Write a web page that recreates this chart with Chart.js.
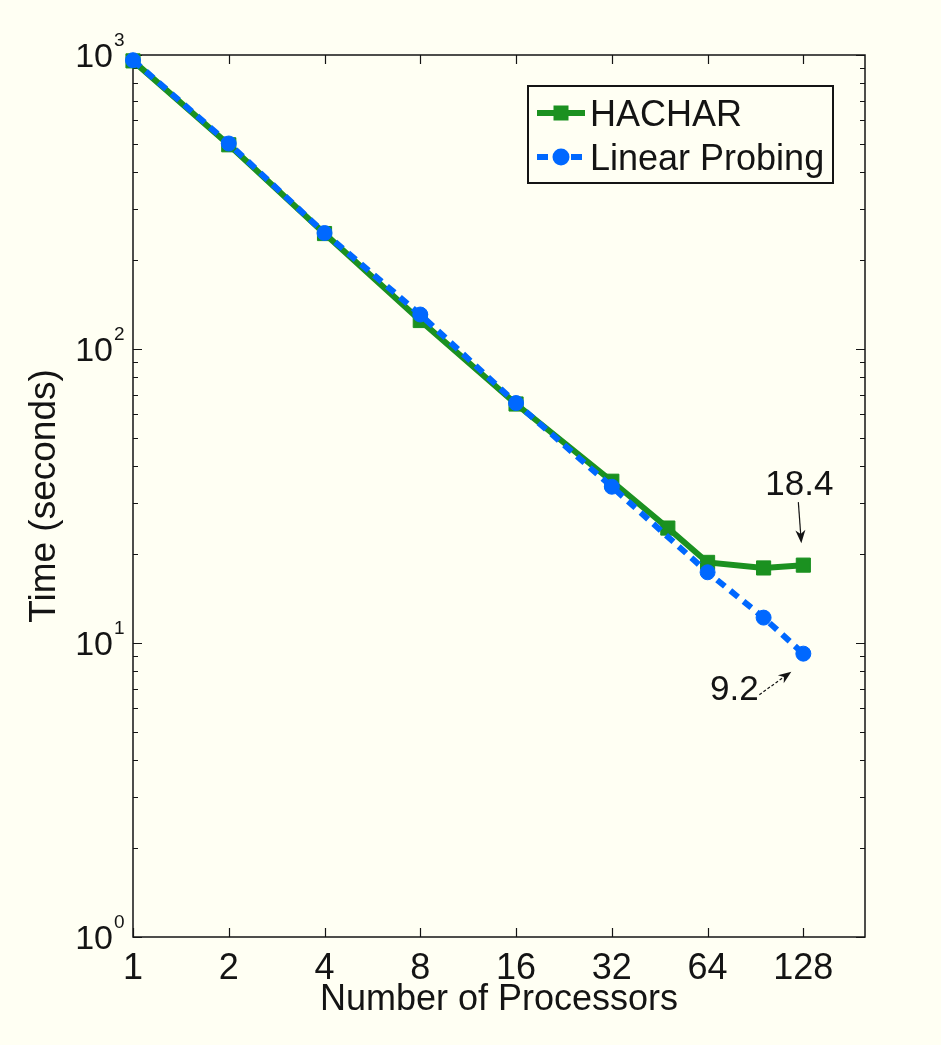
<!DOCTYPE html>
<html>
<head>
<meta charset="utf-8">
<title>Time vs processors</title>
<script src="https://cdn.jsdelivr.net/npm/chart.js@4.4.1/dist/chart.umd.min.js"></script>
<style>
  html, body { margin: 0; padding: 0; background: #fffff3; }
  canvas { display: block; }
</style>
</head>
<body>
<canvas id="timeChart" width="941" height="1045"></canvas>
<script>
// processor counts on the x axis (log2 spacing)
const procTicks = [1, 2, 4, 8, 16, 32, 64, 128];

// HACHAR run times (seconds)
const hacharProcs = [1, 2, 4, 8, 16, 32, 48, 64, 96, 128];
const hacharTimes = [955, 495, 247, 125, 65, 35.5, 24.6, 18.8, 18.0, 18.4];

// linear probing run times (seconds)
const probingProcs = [1, 2, 4, 8, 16, 32, 64, 96, 128];
const probingTimes = [960, 500, 248, 131, 65.5, 34, 17.4, 12.2, 9.2];

// powers of ten shown on the y axis
const yDecades = [1, 10, 100, 1000];

const FONT = '"Liberation Sans", Arial, Helvetica, sans-serif';
const GREEN = '#1b9120';
const BLUE = '#0068ff';
const INK = '#141414';

const toPoints = (xs, ys) => xs.map((v, i) => ({ x: v, y: ys[i] }));

// box, inward ticks on all four sides, and 10^n labels
const frame = {
  id: 'frame',
  beforeDatasetsDraw(chart) {
    const { ctx, chartArea: a, scales: { x, y } } = chart;
    ctx.save();
    ctx.strokeStyle = INK;
    ctx.lineWidth = 1.5;
    ctx.strokeRect(a.left, a.top, a.right - a.left, a.bottom - a.top);

    ctx.lineWidth = 1.2;
    ctx.beginPath();
    procTicks.forEach(v => {
      const px = Math.round(x.getPixelForValue(v)) + 0.5;
      ctx.moveTo(px, a.bottom); ctx.lineTo(px, a.bottom - 9);
      ctx.moveTo(px, a.top); ctx.lineTo(px, a.top + 9);
    });
    yDecades.forEach(dec => {
      for (let m = 1; m < 10; m++) {
        const v = dec * m;
        if (v > y.max) break;
        const py = Math.round(y.getPixelForValue(v)) + 0.5;
        const len = m === 1 ? 9 : 5;
        ctx.moveTo(a.left, py); ctx.lineTo(a.left + len, py);
        ctx.moveTo(a.right, py); ctx.lineTo(a.right - len, py);
      }
    });
    ctx.stroke();

    ctx.fillStyle = INK;
    yDecades.forEach(dec => {
      const py = y.getPixelForValue(dec);
      const exp = Math.round(Math.log10(dec));
      ctx.font = '34px ' + FONT;
      ctx.textAlign = 'right';
      ctx.textBaseline = 'alphabetic';
      ctx.fillText('10', a.left - 20, py + 12);
      ctx.font = '19px ' + FONT;
      ctx.textAlign = 'left';
      ctx.fillText(String(exp), a.left - 19, py - 9);
    });
    ctx.restore();
  }
};

function drawArrow(ctx, x0, y0, x1, y1, dashed) {
  const ang = Math.atan2(y1 - y0, x1 - x0);
  const head = 13, half = 5;
  ctx.save();
  ctx.strokeStyle = INK;
  ctx.fillStyle = INK;
  ctx.lineWidth = 1.2;
  if (dashed) ctx.setLineDash([3, 2]);
  ctx.beginPath();
  ctx.moveTo(x0, y0);
  ctx.lineTo(x1 - Math.cos(ang) * head * 0.7, y1 - Math.sin(ang) * head * 0.7);
  ctx.stroke();
  ctx.setLineDash([]);
  ctx.beginPath();
  ctx.moveTo(x1, y1);
  ctx.lineTo(x1 - Math.cos(ang) * head - Math.sin(ang) * half, y1 - Math.sin(ang) * head + Math.cos(ang) * half);
  ctx.lineTo(x1 - Math.cos(ang) * head * 0.7, y1 - Math.sin(ang) * head * 0.7);
  ctx.lineTo(x1 - Math.cos(ang) * head + Math.sin(ang) * half, y1 - Math.sin(ang) * head - Math.cos(ang) * half);
  ctx.closePath();
  ctx.fill();
  ctx.restore();
}

// value callouts at 128 processors
const callouts = {
  id: 'callouts',
  afterDatasetsDraw(chart) {
    const { ctx, scales: { x, y } } = chart;
    const hi = hacharProcs.length - 1;
    const pi = probingProcs.length - 1;
    const hx = x.getPixelForValue(hacharProcs[hi]);
    const hy = y.getPixelForValue(hacharTimes[hi]);
    const px = x.getPixelForValue(probingProcs[pi]);
    const py = y.getPixelForValue(probingTimes[pi]);

    ctx.save();
    ctx.fillStyle = INK;
    ctx.font = '35px ' + FONT;
    ctx.textAlign = 'center';
    ctx.textBaseline = 'alphabetic';
    ctx.fillText(hacharTimes[hi].toFixed(1), hx - 4, hy - 83 + 12.5);
    ctx.fillText(probingTimes[pi].toFixed(1), px - 69, py + 34 + 12.5);
    ctx.restore();

    drawArrow(ctx, hx - 5, hy - 63, hx - 2, hy - 22, false);
    drawArrow(ctx, px - 44, py + 41, px - 12, py + 18, true);
  }
};

// boxed legend in the upper right of the plot
const boxLegend = {
  id: 'boxLegend',
  afterDatasetsDraw(chart) {
    const { ctx, chartArea: a } = chart;
    const left = a.right - 337, top = a.top + 31, w = 305, h = 97;
    ctx.save();
    ctx.fillStyle = '#fffff3';
    ctx.fillRect(left, top, w, h);
    ctx.strokeStyle = INK;
    ctx.lineWidth = 2;
    ctx.strokeRect(left, top, w, h);

    const x0 = left + 9, x1 = left + 57, xm = (x0 + x1) / 2;
    const r1 = top + 27, r2 = top + 71;

    ctx.strokeStyle = GREEN;
    ctx.lineWidth = 6;
    ctx.beginPath(); ctx.moveTo(x0, r1); ctx.lineTo(x1, r1); ctx.stroke();
    ctx.fillStyle = GREEN;
    ctx.fillRect(xm - 7.5, r1 - 7.5, 15, 15);

    ctx.strokeStyle = BLUE;
    ctx.setLineDash([11, 6]);
    ctx.beginPath(); ctx.moveTo(x0, r2); ctx.lineTo(x1, r2); ctx.stroke();
    ctx.setLineDash([]);
    ctx.fillStyle = BLUE;
    ctx.beginPath(); ctx.arc(xm, r2, 8.5, 0, Math.PI * 2); ctx.fill();

    ctx.fillStyle = INK;
    ctx.font = '36px ' + FONT;
    ctx.textAlign = 'left';
    ctx.textBaseline = 'alphabetic';
    ctx.fillText(chart.data.datasets[0].label, left + 62, r1 + 13);
    ctx.fillText(chart.data.datasets[1].label, left + 62, r2 + 13);
    ctx.restore();
  }
};

new Chart(document.getElementById('timeChart'), {
  type: 'line',
  data: {
    datasets: [
      {
        label: 'HACHAR',
        data: toPoints(hacharProcs, hacharTimes),
        borderColor: GREEN,
        backgroundColor: GREEN,
        borderWidth: 6,
        pointStyle: 'rect',
        pointRadius: 10,
        pointBorderWidth: 1,
        pointBorderColor: GREEN,
        tension: 0,
        clip: false,
        order: 2
      },
      {
        label: 'Linear Probing',
        data: toPoints(probingProcs, probingTimes),
        borderColor: BLUE,
        backgroundColor: BLUE,
        borderWidth: 6,
        borderDash: [10, 7],
        pointStyle: 'circle',
        pointRadius: 7.5,
        pointBorderWidth: 1,
        pointBorderColor: BLUE,
        tension: 0,
        clip: false,
        order: 1
      }
    ]
  },
  options: {
    responsive: false,
    animation: false,
    events: [],
    layout: { padding: { left: 26, right: 76, top: 55, bottom: 27 } },
    plugins: {
      legend: { display: false },
      tooltip: { enabled: false }
    },
    scales: {
      x: {
        type: 'logarithmic',
        min: 1,
        max: 200,
        afterBuildTicks: s => { s.ticks = procTicks.map(v => ({ value: v })); },
        afterFit: s => { s.height = 81; },
        grid: { display: false, drawTicks: false },
        border: { display: false },
        ticks: {
          autoSkip: false,
          maxRotation: 0,
          padding: 10,
          color: INK,
          font: { family: FONT, size: 36 },
          callback: v => String(v)
        },
        title: {
          display: true,
          text: 'Number of Processors',
          color: INK,
          font: { family: FONT, size: 36, lineHeight: 1 },
          padding: { top: 0, bottom: 0 }
        }
      },
      y: {
        type: 'logarithmic',
        min: 1,
        max: 1000,
        afterFit: s => { s.width = 107; },
        grid: { display: false, drawTicks: false },
        border: { display: false },
        ticks: { display: false },
        title: {
          display: true,
          text: 'Time (seconds)',
          color: INK,
          font: { family: FONT, size: 37, lineHeight: 1 },
          padding: { top: 0, bottom: 0 }
        }
      }
    }
  },
  plugins: [frame, callouts, boxLegend]
});
</script>
</body>
</html>
